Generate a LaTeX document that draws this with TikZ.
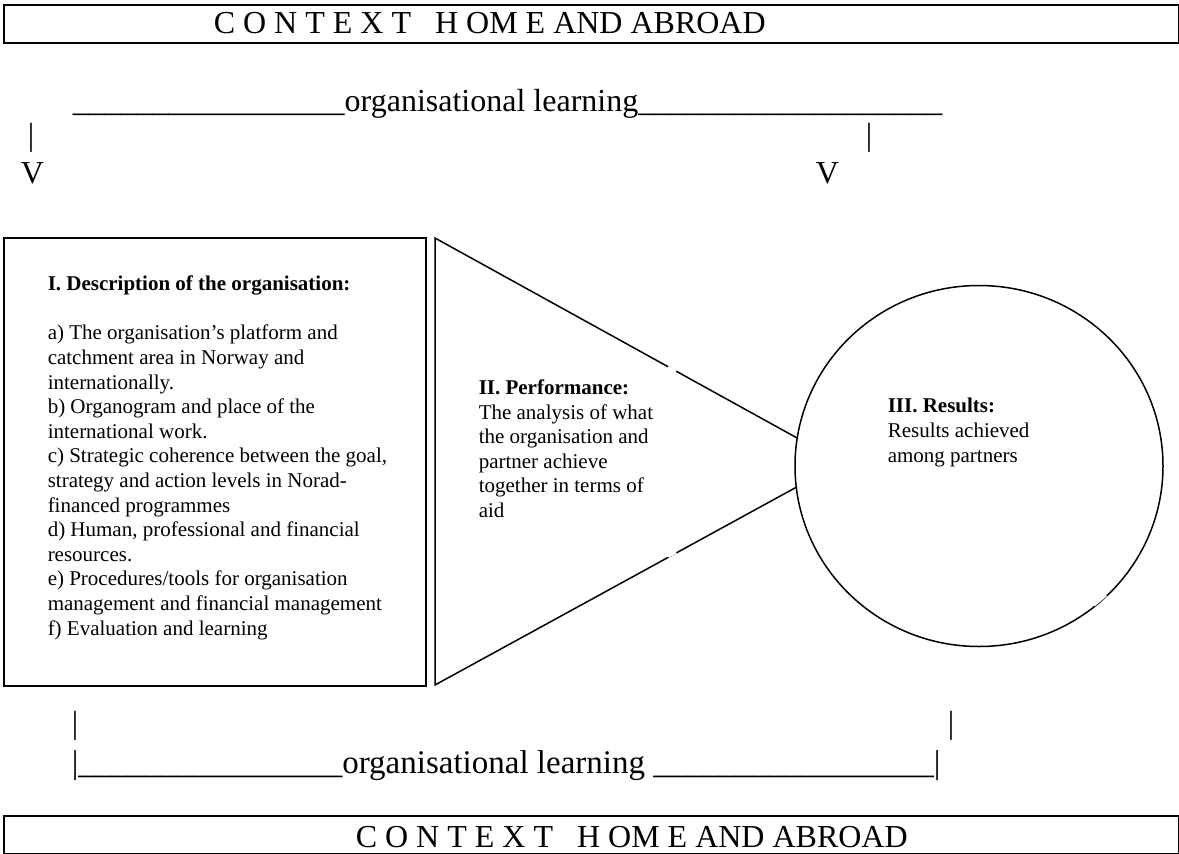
\documentclass[tikz,border=0pt]{standalone}
\usepackage{fontspec}
\setmainfont{Liberation Serif}
\usetikzlibrary{shapes.geometric,positioning}

\begin{document}
\begin{tikzpicture}[x=1pt, y=-1pt, line width=1.5pt]
   \useasboundingbox (0,0) rectangle (1179,854);
   \begin{scope}[every node/.style={draw, line width=2pt, inner sep=0pt, anchor=north west}]
    \node (ctx1) [minimum width=1175pt, minimum height=38pt] at (3,4) {};
    \node (desc) [minimum width=422pt, minimum height=448pt] at (3,237) {};
    \node (ctx2) [minimum width=1175pt, minimum height=38pt] at (3,815) {};
   \end{scope}
   % performance triangle, its tip hides under the circle
   \coordinate (t1) at (435,238);
   \coordinate (t2) at (841.5,462.5);
   \coordinate (t3) at (435,685);
   \draw (t1) -- (t2) -- (t3) -- cycle;
   \node (res) [ellipse, draw, fill=white, minimum width=368pt, minimum height=361pt, inner sep=0pt] at (979,466) {};
   \draw[white, line width=3pt] (668,367.2) -- (676,371.6);
   \draw[white, line width=3pt] (668,556.5) -- (676,552.2);
   \draw[white, line width=3pt] (1094,605) -- (1106,595);
   \begin{scope}[every node/.style={inner sep=0pt, anchor=base west, font=\fontsize{32}{36}\selectfont}]
    \node (ctxtxt1) at (213,33) {C O N T E X T\ \ \ H OM E AND ABROAD};
    \node (learn1) at (72,111) {\_\_\_\_\_\_\_\_\_\_\_\_\_\_\_\_\_organisational learning\_\_\_\_\_\_\_\_\_\_\_\_\_\_\_\_\_\_\_};
    \node (bar1) at (27,145) {|};
    \node (vee1) at (20,183) {V};
    \node (bar2) at (865,145) {|};
    \node (vee2) at (815,183) {V};
    \node (bar3) at (71,733) {|};
    \node (bar4) at (947,733) {|};
    \node (learn2) at (71,773) [font=\fontsize{33}{36}\selectfont] {|\_\_\_\_\_\_\_\_\_\_\_\_\_\_\_\_organisational learning \_\_\_\_\_\_\_\_\_\_\_\_\_\_\_\_\_|};
    \node (ctxtxt2) at (355,847) {C O N T E X T\ \ \ H OM E AND ABROAD};
   \end{scope}
   % multi-line texts sit on the baseline of their last line
   \begin{scope}[every node/.style={inner sep=0pt, anchor=base west, align=left, font=\fontsize{21}{24.6}\selectfont}]
    \node (desctxt) at (47,635) {\textbf{I. Description of the organisation:}\\[24.6pt]
      a) The organisation’s platform and\\
      catchment area in Norway and\\
      internationally.\\
      b) Organogram and place of the\\
      international work.\\
      c) Strategic coherence between the goal,\\
      strategy and action levels in Norad-\\
      financed programmes\\
      d) Human, professional and financial\\
      resources.\\
      e) Procedures/tools for organisation\\
      management and financial management\\
      f) Evaluation and learning};
    \node (perftxt) at (478,517.5) {\textbf{II. Performance:}\\
      The analysis of what\\
      the organisation and\\
      partner achieve\\
      together in terms of\\
      aid};
    \node (restxt) at (887,462) {\textbf{III. Results:}\\
      Results achieved\\
      among partners};
   \end{scope}
\end{tikzpicture}
\end{document}
